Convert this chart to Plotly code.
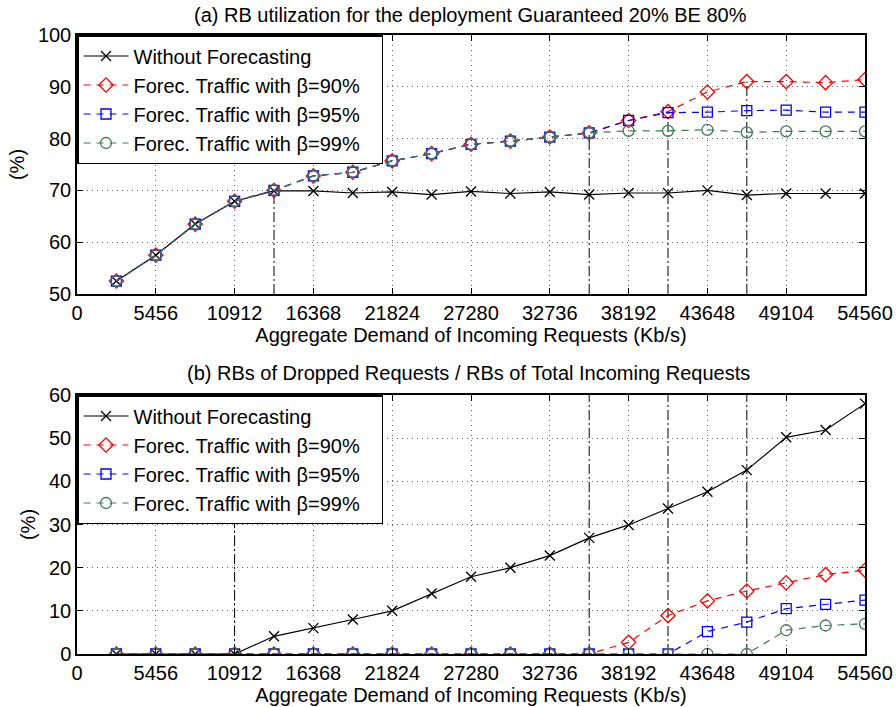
import plotly.graph_objects as go

# ---------------- data ----------------
x_vals = [2728, 5456, 8184, 10912, 13640, 16368, 19096, 21824, 24552, 27280,
          30008, 32736, 35464, 38192, 40920, 43648, 46376, 49104, 51832, 54560]
x_ticks = [0, 5456, 10912, 16368, 21824, 27280, 32736, 38192, 43648, 49104, 54560]

names = ["Without Forecasting", "Forec. Traffic with \u03b2=90%",
         "Forec. Traffic with \u03b2=95%", "Forec. Traffic with \u03b2=99%"]

# (a) RB utilization (%)
util_without = [52.5, 57.5, 63.5, 67.9, 69.9, 69.9, 69.5, 69.7, 69.2, 69.8,
                69.4, 69.7, 69.2, 69.5, 69.5, 70.0, 69.1, 69.4, 69.4, 69.4]
util_b90 = [52.5, 57.5, 63.5, 67.9, 70.0, 72.8, 73.5, 75.7, 77.1, 78.9,
            79.5, 80.3, 81.1, 83.5, 85.2, 89.0, 91.0, 91.0, 90.8, 91.4]
util_b95 = [52.5, 57.5, 63.5, 67.9, 70.0, 72.8, 73.5, 75.7, 77.1, 78.9,
            79.5, 80.3, 81.1, 83.5, 85.0, 85.1, 85.4, 85.5, 85.1, 85.1]
util_b99 = [52.5, 57.5, 63.5, 67.9, 70.0, 72.8, 73.5, 75.7, 77.1, 78.9,
            79.5, 80.3, 81.1, 81.5, 81.5, 81.7, 81.2, 81.4, 81.4, 81.4]

# (b) dropped RBs / total RBs (%)
drop_without = [0, 0, 0, 0, 4.1, 6.0, 8.0, 10.0, 14.0, 17.9,
                20.0, 22.8, 26.9, 29.9, 33.7, 37.6, 42.6, 50.2, 51.9, 58.0]
drop_b90 = [0, 0, 0, 0, 0, 0, 0, 0, 0, 0,
            0, 0, 0, 2.7, 8.9, 12.3, 14.6, 16.5, 18.4, 19.4]
drop_b95 = [0, 0, 0, 0, 0, 0, 0, 0, 0, 0,
            0, 0, 0, 0, 0, 5.2, 7.4, 10.5, 11.5, 12.5]
drop_b99 = [0, 0, 0, 0, 0, 0, 0, 0, 0, 0,
            0, 0, 0, 0, 0, 0, 0, 5.5, 6.6, 7.0]

# vertical reference lines (saturation points)
vline_a_x = [13640, 35464, 40920, 46376]
vline_a_top = [70.0, 81.1, 85.1, 91.0]
vline_b_x = [10912, 35464, 40920, 46376]

# ---------------- styles ----------------
FONT = "Liberation Sans, Arial, sans-serif"
colors = ["black", "#ff0000", "#0000ff", "#3c7a5a"]
symbols = ["x-thin-open", "diamond-open", "square-open", "circle-open"]
msizes = [10, 11, 10, 11]
dashes = ["solid", "7px,6px", "7px,6px", "7px,6px"]
PAD = "\u00a0\u00a0\u00a0"

fig = go.Figure()


def add_vlines(xs, y0, tops, xa, ya):
    vx, vy = [], []
    for xv, t in zip(xs, tops):
        vx += [xv, xv, None]
        vy += [y0, t, None]
    fig.add_trace(go.Scatter(x=vx, y=vy, mode="lines", xaxis=xa, yaxis=ya,
                             line=dict(color="black", width=1,
                                       dash="10px,3px,2px,3px"),
                             showlegend=False, hoverinfo="skip"))


add_vlines(vline_a_x, 50, vline_a_top, "x", "y")
add_vlines(vline_b_x, 0, [60] * len(vline_b_x), "x2", "y2")

series_a = [util_without, util_b90, util_b95, util_b99]
series_b = [drop_without, drop_b90, drop_b95, drop_b99]

for i in range(4):
    fig.add_trace(go.Scatter(
        x=x_vals, y=series_a[i], name=names[i] + PAD, mode="lines+markers",
        xaxis="x", yaxis="y", legend="legend", legendrank=i,
        line=dict(color=colors[i], width=1.2, dash=dashes[i]),
        marker=dict(symbol=symbols[i], size=msizes[i], color=colors[i],
                    line=dict(color=colors[i], width=1.3))))
for i in range(4):
    fig.add_trace(go.Scatter(
        x=x_vals, y=series_b[i], name=names[i] + PAD, mode="lines+markers",
        xaxis="x2", yaxis="y2", legend="legend2", legendrank=i,
        line=dict(color=colors[i], width=1.2, dash=dashes[i]),
        marker=dict(symbol=symbols[i], size=msizes[i], color=colors[i],
                    line=dict(color=colors[i], width=1.3))))

W, H = 896, 707
xdom = [77 / W, 865 / W]
ydom_a = [1 - 294 / H, 1 - 35 / H]
ydom_b = [1 - 654 / H, 1 - 395 / H]

axis_common = dict(
    showline=True, linecolor="black", linewidth=1.5, mirror="ticks",
    ticks="inside", ticklen=6, tickcolor="black", automargin=False,
    showgrid=True, gridcolor="#666666", griddash="1px,4px", gridwidth=1,
    zeroline=False, tickfont=dict(family=FONT, size=20, color="black"),
)

xaxis_common = dict(axis_common, range=[0, 54560], tickmode="array",
                    tickvals=x_ticks, ticktext=[str(t) for t in x_ticks],
                    domain=xdom,
                    title=dict(text="Aggregate Demand of Incoming Requests (Kb/s)",
                               font=dict(family=FONT, size=20, color="black"),
                               standoff=0))

fig.update_layout(
    width=W, height=H, margin=dict(l=0, r=0, t=0, b=0),
    paper_bgcolor="white", plot_bgcolor="white",
    font=dict(family=FONT, size=20, color="black"),
    xaxis=dict(xaxis_common, anchor="y"),
    yaxis=dict(axis_common, range=[50, 100], dtick=10, domain=ydom_a, anchor="x",
               title=dict(text="(%)", font=dict(family=FONT, size=20), standoff=8)),
    xaxis2=dict(xaxis_common, anchor="y2"),
    yaxis2=dict(axis_common, range=[0, 60], dtick=10, domain=ydom_b, anchor="x2",
                title=dict(text="(%)", font=dict(family=FONT, size=20), standoff=8)),
    legend=dict(x=xdom[0], y=ydom_a[1], xanchor="left", yanchor="top",
                bgcolor="white", bordercolor="black", borderwidth=1.5,
                font=dict(family=FONT, size=20), itemwidth=45, tracegroupgap=0),
    legend2=dict(x=xdom[0], y=ydom_b[1], xanchor="left", yanchor="top",
                 bgcolor="white", bordercolor="black", borderwidth=1.5,
                 font=dict(family=FONT, size=20), itemwidth=45, tracegroupgap=0),
    annotations=[
        dict(text="(a) RB utilization for the deployment Guaranteed 20% BE 80%",
             x=470 / W, y=1 - 15 / H, xref="paper", yref="paper",
             xanchor="center", yanchor="middle",
             showarrow=False, font=dict(family=FONT, size=20, color="black")),
        dict(text="(b) RBs of Dropped Requests / RBs of Total Incoming Requests",
             x=468 / W, y=1 - 373 / H, xref="paper", yref="paper",
             xanchor="center", yanchor="middle",
             showarrow=False, font=dict(family=FONT, size=20, color="black")),
    ],
    showlegend=True,
)

fig.write_html("out.html")
